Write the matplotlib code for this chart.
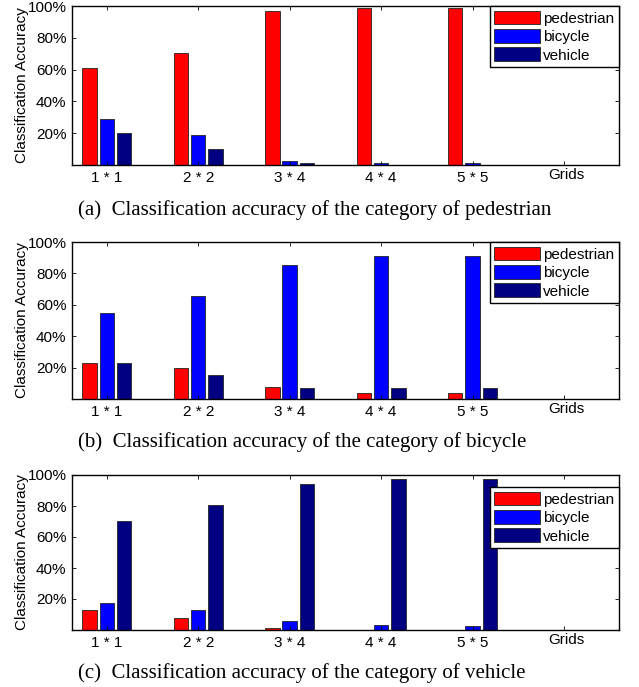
import numpy as np
import matplotlib
matplotlib.use("Agg")
import matplotlib.pyplot as plt

# grid sizes on the x axis
grids = ["1 * 1", "2 * 2", "3 * 4", "4 * 4", "5 * 5"]
series = ["pedestrian", "bicycle", "vehicle"]
colors = ["#ff0000", "#0000ff", "#000080"]

# accuracy per panel, one list per predicted class
ped_panel = {
    "pedestrian": [0.61, 0.705, 0.967, 0.985, 0.985],
    "bicycle": [0.29, 0.19, 0.025, 0.015, 0.015],
    "vehicle": [0.20, 0.10, 0.01, 0.0, 0.0],
}
bic_panel = {
    "pedestrian": [0.227, 0.195, 0.078, 0.036, 0.036],
    "bicycle": [0.549, 0.655, 0.852, 0.909, 0.909],
    "vehicle": [0.227, 0.153, 0.072, 0.068, 0.068],
}
veh_panel = {
    "pedestrian": [0.127, 0.075, 0.013, 0.0, 0.0],
    "bicycle": [0.176, 0.127, 0.058, 0.030, 0.024],
    "vehicle": [0.705, 0.806, 0.942, 0.974, 0.974],
}

captions = [
    "(a)  Classification accuracy of the category of pedestrian",
    "(b)  Classification accuracy of the category of bicycle",
    "(c)  Classification accuracy of the category of vehicle",
]

W, H = 639, 687
fig = plt.figure(figsize=(W / 100, H / 100), dpi=100)

# (top, bottom) pixel rows of each axes, caption row
boxes = [(6, 165, 210), (242, 399, 442), (475, 630, 673)]
legend_drop = [0, 0, 12]
left_px, right_px = 72, 619

sans = "Liberation Sans"
serif = "Liberation Serif"
fs = 11
x = np.arange(1, len(grids) + 1)
offsets = [-0.19, 0.0, 0.19]
width = 0.158

for k, panel in enumerate([ped_panel, bic_panel, veh_panel]):
    top, bot, cap = boxes[k]
    ax = fig.add_axes([left_px / W, 1 - bot / H, (right_px - left_px) / W, (bot - top) / H])
    for i, name in enumerate(series):
        ax.bar(x + offsets[i], panel[name], width, color=colors[i],
               edgecolor="#222222", linewidth=0.6, label=name)
    ax.set_xlim(0.62, 6.6)
    ax.set_ylim(0, 1)
    ax.set_xticks(list(x) + [6])
    ax.set_xticklabels(grids + [""], fontfamily=sans, fontsize=fs)
    ax.set_yticks([0.2, 0.4, 0.6, 0.8, 1.0])
    ax.set_yticklabels(["20%", "40%", "60%", "80%", "100%"], fontfamily=sans, fontsize=fs)
    ax.tick_params(direction="in", length=3, width=0.6, top=True, right=True, pad=4)
    for s in ax.spines.values():
        s.set_linewidth(1.0)
    ax.text(6.03, -0.02, "Grids", ha="center", va="top", fontfamily=sans, fontsize=fs,
            transform=ax.transData)
    ax.set_ylabel("Classification Accuracy", fontfamily=sans, fontsize=fs)
    ax.yaxis.set_label_coords(-0.078, 0.5)

    drop = legend_drop[k] / (bot - top)
    leg = ax.legend(loc="upper right", bbox_to_anchor=(1.0, 1.0 - drop), borderaxespad=0,
                    prop={"family": sans, "size": fs}, fancybox=False, framealpha=1,
                    edgecolor="black", handlelength=3.0, handleheight=1.0,
                    handletextpad=0.2, labelspacing=0.22, borderpad=0.3)
    leg.get_frame().set_linewidth(1.0)

    fig.text(78 / W, 1 - cap / H, captions[k], ha="left", va="center",
             fontfamily=serif, fontsize=15)

fig.savefig("out.png", dpi=100)
